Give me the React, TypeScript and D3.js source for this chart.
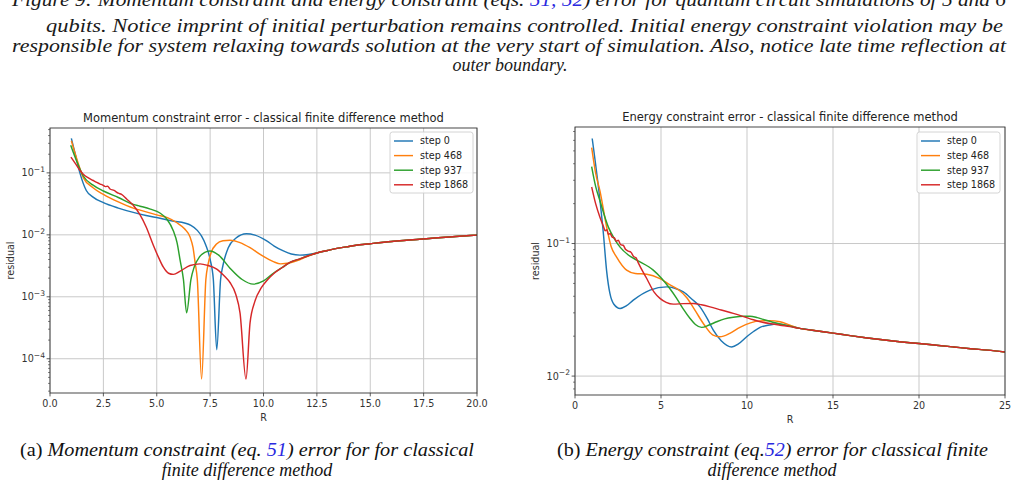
import * as d3 from "d3"

type Pt = [number, number]

const stepLabels = ["step 0", "step 468", "step 937", "step 1868"]
const stepColors = ["#1f77b4", "#ff7f0e", "#2ca02c", "#d62728"]

// momentum constraint residual, pairs of (R, residual)
const momentumStep0: Pt[] = [
  [1.0, 0.36], [1.2, 0.19], [1.4, 0.1], [1.7, 0.052], [2.0, 0.041], [2.5, 0.033], [3.2, 0.027],
  [3.9, 0.023], [4.5, 0.0205], [5.0, 0.019], [5.8, 0.0166], [6.3, 0.0155], [6.6, 0.0142],
  [6.9, 0.0118], [7.1, 0.0095], [7.3, 0.0068], [7.5, 0.004], [7.65, 0.0019], [7.81, 0.00014],
  [7.99, 0.0019], [8.1, 0.0032], [8.35, 0.0062], [8.7, 0.0088], [9.2, 0.0104], [9.6, 0.0099],
  [10.15, 0.008], [10.5, 0.0066], [10.93, 0.0055], [11.3, 0.0049], [11.7, 0.0047], [12.1, 0.0048],
]
const momentumStep468: Pt[] = [
  [1.0, 0.33], [1.3, 0.15], [1.56, 0.084], [2.0, 0.058], [2.5, 0.045], [3.2, 0.034], [3.9, 0.027],
  [4.22, 0.025], [5.0, 0.021], [5.5, 0.019], [5.93, 0.0158], [6.3, 0.0125], [6.56, 0.0092],
  [6.7, 0.0062], [6.8, 0.0035], [6.9, 0.0019], [7.1, 0.000047], [7.3, 0.0019], [7.4, 0.0033],
  [7.55, 0.0052], [7.8, 0.0071], [8.1, 0.008], [8.43, 0.0082], [8.9, 0.0075], [9.37, 0.0062],
  [9.9, 0.0047], [10.46, 0.0037], [10.8, 0.0034], [11.2, 0.0035], [11.55, 0.0038], [12.0, 0.0044],
]
const momentumStep937: Pt[] = [
  [0.97, 0.28], [1.3, 0.14], [1.56, 0.089], [2.0, 0.064], [2.5, 0.051], [3.2, 0.04], [3.9, 0.031],
  [4.22, 0.029], [4.7, 0.026], [5.15, 0.0225], [5.47, 0.018], [5.78, 0.0115], [5.95, 0.0075],
  [6.1, 0.0038], [6.25, 0.0019], [6.4, 0.00055], [6.6, 0.0019], [6.75, 0.003], [7.0, 0.0044],
  [7.25, 0.0052], [7.49, 0.0055], [7.9, 0.0047], [8.43, 0.0029], [9.0, 0.0019], [9.52, 0.0016],
  [10.0, 0.0018], [10.46, 0.0024], [10.9, 0.003], [11.24, 0.0036], [11.7, 0.0041], [12.1, 0.0046],
]
const momentumStep1868: Pt[] = [
  [0.98, 0.18], [1.2, 0.14], [1.4, 0.11], [1.56, 0.095], [1.8, 0.083], [2.0, 0.076], [2.19, 0.07],
  [2.35, 0.066], [2.45, 0.064], [2.6, 0.06], [2.7, 0.061], [2.81, 0.055], [3.0, 0.052],
  [3.2, 0.047], [3.35, 0.045], [3.59, 0.038], [3.9, 0.03], [4.22, 0.021], [4.5, 0.0135],
  [4.84, 0.0068], [5.1, 0.0042], [5.31, 0.003], [5.55, 0.0024], [5.78, 0.0023], [6.1, 0.0026],
  [6.56, 0.0032], [7.03, 0.0034], [7.4, 0.0032], [7.81, 0.0028], [8.2, 0.0021], [8.43, 0.0017],
  [8.7, 0.0011], [8.9, 0.00055], [9.18, 0.000047], [9.37, 0.00038], [9.6, 0.00085], [9.9, 0.0014],
  [10.2, 0.0019], [10.5, 0.0024], [10.9, 0.003], [11.24, 0.0036], [11.7, 0.0041], [12.1, 0.0046],
]
// all steps coincide beyond R ~ 12.5
const momentumTail: Pt[] = [
  [12.5, 0.0051], [13.0, 0.0056], [13.5, 0.0061], [14.0, 0.0065], [14.5, 0.0069], [15.0, 0.0072],
  [16.0, 0.0078], [17.0, 0.0083], [18.0, 0.0089], [19.0, 0.0094], [20.0, 0.0099],
]
const momentumXTicks = [0, 2.5, 5, 7.5, 10, 12.5, 15, 17.5, 20]
const momentumYTicks = [-4, -3, -2, -1]

// energy constraint residual, pairs of (R, residual)
const energyStep0: Pt[] = [
  [1.0, 0.62], [1.65, 0.119], [1.84, 0.062], [2.03, 0.042], [2.25, 0.035], [2.62, 0.0324],
  [3.0, 0.034], [3.39, 0.0374], [4.36, 0.0445], [5.33, 0.0471], [5.8, 0.046], [6.3, 0.0431],
  [6.8, 0.038], [7.27, 0.0333], [7.7, 0.027], [8.04, 0.0222], [8.5, 0.0185], [9.11, 0.0166],
  [9.5, 0.0175], [9.98, 0.0198], [10.4, 0.0218], [10.76, 0.0233], [11.3, 0.0243], [11.73, 0.0247],
  [12.3, 0.0242],
]
const energyStep468: Pt[] = [
  [0.97, 0.53], [1.2, 0.34], [1.45, 0.25], [1.84, 0.133], [2.1, 0.095], [2.42, 0.079], [3.0, 0.063],
  [3.5, 0.0595], [4.17, 0.0587], [4.94, 0.0544], [5.5, 0.049], [6.0, 0.045], [6.5, 0.039],
  [7.0, 0.031], [7.5, 0.0245], [8.0, 0.0205], [8.43, 0.0198], [9.0, 0.021], [9.59, 0.0233],
  [10.2, 0.0252], [10.76, 0.0261], [11.3, 0.0262], [11.92, 0.0257], [12.5, 0.0242],
]
const energyStep937: Pt[] = [
  [0.97, 0.38], [1.2, 0.27], [1.45, 0.21], [1.94, 0.133], [2.3, 0.108], [2.62, 0.094], [3.1, 0.082],
  [3.59, 0.075], [4.55, 0.063], [5.04, 0.0545], [5.5, 0.046], [5.91, 0.0386], [6.3, 0.032],
  [6.69, 0.0272], [7.0, 0.0245], [7.36, 0.0233], [7.8, 0.0243], [8.24, 0.0257], [8.7, 0.027],
  [9.2, 0.0278], [9.8, 0.0283], [10.17, 0.0283], [10.6, 0.0276], [11.0, 0.0266], [11.5, 0.0255],
  [12.0, 0.0246], [12.5, 0.0238],
]
const energyStep1868: Pt[] = [
  [0.97, 0.267], [1.2, 0.2], [1.45, 0.158], [1.65, 0.135], [1.75, 0.125], [1.85, 0.127],
  [1.94, 0.117], [2.05, 0.119], [2.15, 0.112], [2.3, 0.11], [2.4, 0.104], [2.52, 0.106],
  [2.65, 0.098], [2.8, 0.097], [2.95, 0.09], [3.1, 0.0875], [3.25, 0.086], [3.4, 0.08],
  [3.55, 0.078], [3.68, 0.0715], [4.17, 0.0545], [4.6, 0.043], [4.94, 0.0386], [5.3, 0.036],
  [5.72, 0.0349], [6.3, 0.0352], [6.88, 0.0353], [7.35, 0.0345], [7.85, 0.0333], [8.5, 0.0315],
  [9.2, 0.0297], [9.8, 0.0281], [10.37, 0.0266], [10.9, 0.0255], [11.4, 0.0248], [11.92, 0.0242],
  [12.5, 0.0236],
]
const energyTail: Pt[] = [
  [13.0, 0.023], [14.0, 0.022], [15.0, 0.0211], [16.0, 0.0202], [17.0, 0.0194], [18.0, 0.0187],
  [19.0, 0.0181], [20.0, 0.0176], [21.0, 0.0171], [22.0, 0.0166], [23.0, 0.0161], [24.0, 0.0157],
  [25.0, 0.0152],
]
const energyXTicks = [0, 5, 10, 15, 20, 25]
const energyYTicks = [-2, -1]

const TICK_FONT = "'DejaVu Sans', sans-serif"
const BODY_FONT = "'Liberation Serif', serif"
const LINK = "#2a2ae0"

interface PanelProps {
  id: string
  left: number
  top: number
  width: number
  height: number
  title: string
  xDomain: [number, number]
  xTicks: number[]
  xFormat: (v: number) => string
  yDomain: [number, number]
  yExponents: number[]
  series: Pt[][]
  legendLeft: number
  legendTop: number
}

function LogPanel(p: PanelProps) {
  const x = d3.scaleLinear().domain(p.xDomain).range([p.left, p.left + p.width])
  const y = d3.scaleLog().domain(p.yDomain).range([p.top + p.height, p.top])
  const line = d3
    .line<Pt>()
    .x((d) => x(d[0]))
    .y((d) => y(d[1]))
    .curve(d3.curveMonotoneX)

  // minor ticks at 2..9 x 10^n inside the domain
  const minor: number[] = []
  const lo = Math.floor(Math.log10(p.yDomain[0]))
  const hi = Math.ceil(Math.log10(p.yDomain[1]))
  for (let e = lo; e <= hi; e++) {
    for (let k = 2; k <= 9; k++) {
      const v = k * Math.pow(10, e)
      if (v >= p.yDomain[0] && v <= p.yDomain[1]) minor.push(v)
    }
  }

  const bottom = p.top + p.height
  const right = p.left + p.width
  const midX = p.left + p.width / 2
  const midY = p.top + p.height / 2

  return (
    <g>
      <defs>
        <clipPath id={p.id}>
          <rect x={p.left} y={p.top} width={p.width} height={p.height} />
        </clipPath>
      </defs>

      {/* grid */}
      <g stroke="#c9c9c9" strokeWidth={1}>
        {p.xTicks.map((t) => (
          <line key={"gx" + t} x1={x(t)} x2={x(t)} y1={p.top} y2={bottom} />
        ))}
        {p.yExponents.map((e) => (
          <line key={"gy" + e} x1={p.left} x2={right} y1={y(Math.pow(10, e))} y2={y(Math.pow(10, e))} />
        ))}
      </g>

      {/* curves */}
      <g clipPath={`url(#${p.id})`} fill="none" strokeWidth={1.45} strokeLinejoin="round">
        {p.series.map((s, i) => (
          <path key={i} d={line(s) ?? ""} stroke={stepColors[i]} />
        ))}
      </g>

      {/* frame */}
      <rect x={p.left} y={p.top} width={p.width} height={p.height} fill="none" stroke="#333" strokeWidth={0.9} />

      {/* x ticks */}
      <g fontFamily={TICK_FONT} fontSize={9.6} fill="#333" textAnchor="middle">
        {p.xTicks.map((t) => (
          <g key={"xt" + t}>
            <line x1={x(t)} x2={x(t)} y1={bottom} y2={bottom + 3.4} stroke="#333" strokeWidth={0.8} />
            <text x={x(t)} y={bottom + 14}>
              {p.xFormat(t)}
            </text>
          </g>
        ))}
        <text x={midX} y={bottom + 28}>
          R
        </text>
      </g>

      {/* y ticks */}
      <g fontFamily={TICK_FONT} fontSize={9.6} fill="#333">
        {minor.map((v) => (
          <line key={"ym" + v} x1={p.left - 2} x2={p.left} y1={y(v)} y2={y(v)} stroke="#333" strokeWidth={0.6} />
        ))}
        {p.yExponents.map((e) => {
          const yy = y(Math.pow(10, e))
          return (
            <g key={"yt" + e}>
              <line x1={p.left - 3.4} x2={p.left} y1={yy} y2={yy} stroke="#333" strokeWidth={0.8} />
              <text x={p.left - 5} y={yy + 3.5} textAnchor="end">
                10
                <tspan dy={-4.5} fontSize={7.6}>
                  {"\u2212" + Math.abs(e)}
                </tspan>
              </text>
            </g>
          )
        })}
        <text
          transform={`translate(${p.left - 36},${midY}) rotate(-90)`}
          textAnchor="middle"
        >
          residual
        </text>
      </g>

      {/* title */}
      <text x={midX} y={p.top - 6} textAnchor="middle" fontFamily={TICK_FONT} fontSize={11.5} fill="#222">
        {p.title}
      </text>

      {/* legend */}
      <g fontFamily={TICK_FONT} fontSize={9.6} fill="#222">
        <rect
          x={p.legendLeft}
          y={p.legendTop}
          width={83}
          height={61}
          rx={2.5}
          fill="#fff"
          fillOpacity={0.85}
          stroke="#cfcfcf"
          strokeWidth={0.9}
        />
        {stepLabels.map((lab, i) => {
          const ly = p.legendTop + 9 + i * 14.6
          return (
            <g key={lab}>
              <line x1={p.legendLeft + 4} x2={p.legendLeft + 23} y1={ly} y2={ly} stroke={stepColors[i]} strokeWidth={1.45} />
              <text x={p.legendLeft + 30} y={ly + 3.4}>
                {lab}
              </text>
            </g>
          )
        })}
      </g>
    </g>
  )
}

export default function App() {
  const momentumSeries = [momentumStep0, momentumStep468, momentumStep937, momentumStep1868].map((s) =>
    s.concat(momentumTail)
  )
  const energySeries = [energyStep0, energyStep468, energyStep937, energyStep1868].map((s) =>
    s.concat(energyTail)
  )

  return (
    <svg
      width={1018}
      height={487}
      style={{ position: "absolute", left: 0, top: 0, background: "#fff" }}
    >
      {/* running caption text above the panels */}
      <g fontFamily={BODY_FONT} fontSize={18} fontStyle="italic" fill="#1a1a1a">
        <text x={12} y={6} textLength={994} lengthAdjust="spacingAndGlyphs">
          Figure 9: Momentum constraint and energy constraint (eqs.{" "}
          <tspan fill={LINK}>51, 52</tspan>) error for quantum circuit simulations of 5 and 6
        </text>
        <text x={46} y={32} textLength={957} lengthAdjust="spacingAndGlyphs">
          qubits. Notice imprint of initial perturbation remains controlled. Initial energy constraint violation may be
        </text>
        <text x={12} y={52} textLength={994} lengthAdjust="spacingAndGlyphs">
          responsible for system relaxing towards solution at the very start of simulation. Also, notice late time reflection at
        </text>
        <text x={510} y={71} textAnchor="middle">
          outer boundary.
        </text>
      </g>

      <LogPanel
        id="clip-momentum"
        left={50}
        top={128}
        width={427}
        height={265}
        title="Momentum constraint error - classical finite difference method"
        xDomain={[0, 20]}
        xTicks={momentumXTicks}
        xFormat={(v) => v.toFixed(1)}
        yDomain={[2.8e-5, 0.53]}
        yExponents={momentumYTicks}
        series={momentumSeries}
        legendLeft={390}
        legendTop={132}
      />
      <LogPanel
        id="clip-energy"
        left={575}
        top={127}
        width={430}
        height={268}
        title="Energy constraint error - classical finite difference method"
        xDomain={[0, 25]}
        xTicks={energyXTicks}
        xFormat={(v) => String(v)}
        yDomain={[0.0072, 0.757]}
        yExponents={energyYTicks}
        series={energySeries}
        legendLeft={917}
        legendTop={132}
      />

      {/* sub-figure captions */}
      <g fontFamily={BODY_FONT} fontSize={18} fill="#111">
        <text x={20} y={456} textLength={454} lengthAdjust="spacingAndGlyphs">
          (a) <tspan fontStyle="italic">Momentum constraint (eq. </tspan>
          <tspan fontStyle="italic" fill={LINK}>51</tspan>
          <tspan fontStyle="italic">) error for for classical</tspan>
        </text>
        <text x={247} y={476} textAnchor="middle" fontStyle="italic">
          finite difference method
        </text>
        <text x={557} y={456} textLength={431} lengthAdjust="spacingAndGlyphs">
          (b) <tspan fontStyle="italic">Energy constraint (eq.</tspan>
          <tspan fontStyle="italic" fill={LINK}>52</tspan>
          <tspan fontStyle="italic">) error for classical finite</tspan>
        </text>
        <text x={772} y={476} textAnchor="middle" fontStyle="italic">
          difference method
        </text>
      </g>
    </svg>
  )
}
